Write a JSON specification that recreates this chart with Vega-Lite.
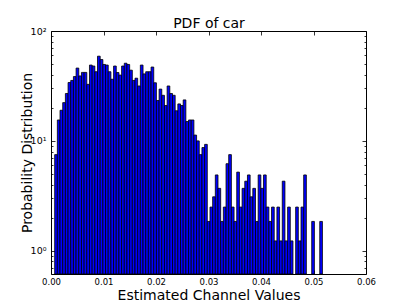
{
  "$schema": "https://vega.github.io/schema/vega-lite/v6.json",
  "width": 315,
  "height": 243,
  "autosize": {"type": "none"},
  "padding": {"left": 51, "top": 31, "right": 41, "bottom": 31},
  "background": "white",
  "data": {"values": [
    {"bin_start": 0.00070, "bin_end": 0.00121, "density": 7.5},
    {"bin_start": 0.00121, "bin_end": 0.00172, "density": 15.5},
    {"bin_start": 0.00172, "bin_end": 0.00223, "density": 19},
    {"bin_start": 0.00223, "bin_end": 0.00274, "density": 22.3},
    {"bin_start": 0.00274, "bin_end": 0.00325, "density": 27},
    {"bin_start": 0.00325, "bin_end": 0.00376, "density": 34},
    {"bin_start": 0.00376, "bin_end": 0.00427, "density": 35.5},
    {"bin_start": 0.00427, "bin_end": 0.00478, "density": 38.5},
    {"bin_start": 0.00478, "bin_end": 0.00529, "density": 46},
    {"bin_start": 0.00529, "bin_end": 0.00580, "density": 39},
    {"bin_start": 0.00580, "bin_end": 0.00631, "density": 42},
    {"bin_start": 0.00631, "bin_end": 0.00682, "density": 42},
    {"bin_start": 0.00682, "bin_end": 0.00733, "density": 32.7},
    {"bin_start": 0.00733, "bin_end": 0.00784, "density": 49},
    {"bin_start": 0.00784, "bin_end": 0.00835, "density": 48},
    {"bin_start": 0.00835, "bin_end": 0.00886, "density": 42.6},
    {"bin_start": 0.00886, "bin_end": 0.00937, "density": 59},
    {"bin_start": 0.00937, "bin_end": 0.00988, "density": 55},
    {"bin_start": 0.00988, "bin_end": 0.01039, "density": 49.6},
    {"bin_start": 0.01039, "bin_end": 0.01090, "density": 49},
    {"bin_start": 0.01090, "bin_end": 0.01141, "density": 42.6},
    {"bin_start": 0.01141, "bin_end": 0.01192, "density": 36.4},
    {"bin_start": 0.01192, "bin_end": 0.01243, "density": 48},
    {"bin_start": 0.01243, "bin_end": 0.01294, "density": 41.9},
    {"bin_start": 0.01294, "bin_end": 0.01345, "density": 39.7},
    {"bin_start": 0.01345, "bin_end": 0.01396, "density": 48},
    {"bin_start": 0.01396, "bin_end": 0.01447, "density": 50.9},
    {"bin_start": 0.01447, "bin_end": 0.01498, "density": 49.6},
    {"bin_start": 0.01498, "bin_end": 0.01549, "density": 44},
    {"bin_start": 0.01549, "bin_end": 0.01600, "density": 35.5},
    {"bin_start": 0.01600, "bin_end": 0.01651, "density": 37.2},
    {"bin_start": 0.01651, "bin_end": 0.01702, "density": 31.6},
    {"bin_start": 0.01702, "bin_end": 0.01753, "density": 49},
    {"bin_start": 0.01753, "bin_end": 0.01804, "density": 40.7},
    {"bin_start": 0.01804, "bin_end": 0.01855, "density": 42.6},
    {"bin_start": 0.01855, "bin_end": 0.01906, "density": 42.6},
    {"bin_start": 0.01906, "bin_end": 0.01957, "density": 47},
    {"bin_start": 0.01957, "bin_end": 0.02008, "density": 33.8},
    {"bin_start": 0.02008, "bin_end": 0.02059, "density": 23.3},
    {"bin_start": 0.02059, "bin_end": 0.02110, "density": 29.6},
    {"bin_start": 0.02110, "bin_end": 0.02161, "density": 26},
    {"bin_start": 0.02161, "bin_end": 0.02212, "density": 21},
    {"bin_start": 0.02212, "bin_end": 0.02263, "density": 31.6},
    {"bin_start": 0.02263, "bin_end": 0.02314, "density": 27},
    {"bin_start": 0.02314, "bin_end": 0.02365, "density": 26},
    {"bin_start": 0.02365, "bin_end": 0.02416, "density": 18.8},
    {"bin_start": 0.02416, "bin_end": 0.02467, "density": 21.7},
    {"bin_start": 0.02467, "bin_end": 0.02518, "density": 21},
    {"bin_start": 0.02518, "bin_end": 0.02569, "density": 23.6},
    {"bin_start": 0.02569, "bin_end": 0.02620, "density": 15},
    {"bin_start": 0.02620, "bin_end": 0.02671, "density": 15.5},
    {"bin_start": 0.02671, "bin_end": 0.02722, "density": 15.5},
    {"bin_start": 0.02722, "bin_end": 0.02773, "density": 11.3},
    {"bin_start": 0.02773, "bin_end": 0.02824, "density": 10},
    {"bin_start": 0.02824, "bin_end": 0.02875, "density": 7.5},
    {"bin_start": 0.02875, "bin_end": 0.02926, "density": 8.7},
    {"bin_start": 0.02926, "bin_end": 0.02977, "density": 9.3},
    {"bin_start": 0.02977, "bin_end": 0.03028, "density": 1.85},
    {"bin_start": 0.03028, "bin_end": 0.03079, "density": 2.5},
    {"bin_start": 0.03079, "bin_end": 0.03130, "density": 3.1},
    {"bin_start": 0.03130, "bin_end": 0.03181, "density": 4.9},
    {"bin_start": 0.03181, "bin_end": 0.03232, "density": 3.7},
    {"bin_start": 0.03232, "bin_end": 0.03283, "density": 1.85},
    {"bin_start": 0.03283, "bin_end": 0.03334, "density": 2.5},
    {"bin_start": 0.03334, "bin_end": 0.03385, "density": 6.2},
    {"bin_start": 0.03385, "bin_end": 0.03436, "density": 7.5},
    {"bin_start": 0.03436, "bin_end": 0.03487, "density": 2.5},
    {"bin_start": 0.03487, "bin_end": 0.03538, "density": 1.85},
    {"bin_start": 0.03538, "bin_end": 0.03589, "density": 5.2},
    {"bin_start": 0.03589, "bin_end": 0.03640, "density": 2.5},
    {"bin_start": 0.03640, "bin_end": 0.03691, "density": 3.7},
    {"bin_start": 0.03691, "bin_end": 0.03742, "density": 4.3},
    {"bin_start": 0.03742, "bin_end": 0.03793, "density": 4.9},
    {"bin_start": 0.03793, "bin_end": 0.03844, "density": 3.1},
    {"bin_start": 0.03844, "bin_end": 0.03895, "density": 3.7},
    {"bin_start": 0.03895, "bin_end": 0.03946, "density": 1.85},
    {"bin_start": 0.03946, "bin_end": 0.03997, "density": 4.9},
    {"bin_start": 0.03997, "bin_end": 0.04048, "density": 3.7},
    {"bin_start": 0.04048, "bin_end": 0.04099, "density": 4.9},
    {"bin_start": 0.04099, "bin_end": 0.04150, "density": 2.5},
    {"bin_start": 0.04150, "bin_end": 0.04201, "density": 1.85},
    {"bin_start": 0.04201, "bin_end": 0.04252, "density": 2.5},
    {"bin_start": 0.04252, "bin_end": 0.04303, "density": 1.23},
    {"bin_start": 0.04303, "bin_end": 0.04354, "density": 2.5},
    {"bin_start": 0.04354, "bin_end": 0.04405, "density": 1.23},
    {"bin_start": 0.04405, "bin_end": 0.04456, "density": 4.3},
    {"bin_start": 0.04456, "bin_end": 0.04507, "density": 1.23},
    {"bin_start": 0.04507, "bin_end": 0.04558, "density": 2.5},
    {"bin_start": 0.04558, "bin_end": 0.04609, "density": 1.23},
    {"bin_start": 0.04660, "bin_end": 0.04711, "density": 2.5},
    {"bin_start": 0.04711, "bin_end": 0.04762, "density": 1.23},
    {"bin_start": 0.04762, "bin_end": 0.04813, "density": 2.5},
    {"bin_start": 0.04813, "bin_end": 0.04864, "density": 4.9},
    {"bin_start": 0.04966, "bin_end": 0.05017, "density": 1.85},
    {"bin_start": 0.05119, "bin_end": 0.05170, "density": 1.85}
  ]},
  "layer": [
    {
      "mark": {"type": "bar", "fill": "#0000ff", "stroke": "black", "strokeWidth": 0.8, "clip": true},
      "encoding": {
        "x": {"field": "bin_start", "type": "quantitative",
          "scale": {"domain": [0, 0.06], "nice": false, "zero": false},
          "axis": {"orient": "bottom", "values": [0, 0.01, 0.02, 0.03, 0.04, 0.05, 0.06], "format": ".2f",
            "title": "Estimated Channel Values", "titleFontSize": 14, "titleBaseline": "alphabetic", "titleX": 157.5, "titleY": 25,
            "tickSize": -4, "labelPadding": 7, "labelFontSize": 8.5}},
        "x2": {"field": "bin_end"},
        "y": {"field": "density", "type": "quantitative",
          "scale": {"type": "log", "domain": [0.615, 100], "nice": false},
          "axis": {"orient": "left", "values": [0.7, 0.8, 0.9, 1, 2, 3, 4, 5, 6, 7, 8, 9, 10, 20, 30, 40, 50, 60, 70, 80, 90, 100],
            "labelExpr": "datum.value == 1 ? '10⁰' : datum.value == 10 ? '10¹' : datum.value == 100 ? '10²' : ''",
            "title": "Probability Distribution", "titleFontSize": 14, "titleBaseline": "alphabetic", "titleAngle": 270, "titleX": -20, "titleY": 121.5,
            "tickSize": {"condition": {"test": "datum.value == 1 || datum.value == 10 || datum.value == 100", "value": -4}, "value": -2},
            "labelPadding": 9, "labelFontSize": 9.5}},
        "y2": {"datum": 0.615}
      }
    },
    {
      "mark": {"type": "bar", "opacity": 0},
      "encoding": {
        "x": {"field": "bin_start", "type": "quantitative",
          "axis": {"orient": "top", "values": [0, 0.01, 0.02, 0.03, 0.04, 0.05, 0.06], "labels": false, "tickSize": -4,
            "title": "PDF of car", "titleFontSize": 14, "titleBaseline": "alphabetic", "titleX": 157.5, "titleY": -4}},
        "x2": {"field": "bin_end"},
        "y": {"field": "density", "type": "quantitative",
          "axis": {"orient": "right", "values": [0.7, 0.8, 0.9, 1, 2, 3, 4, 5, 6, 7, 8, 9, 10, 20, 30, 40, 50, 60, 70, 80, 90, 100], "labels": false, "title": null,
            "tickSize": {"condition": {"test": "datum.value == 1 || datum.value == 10 || datum.value == 100", "value": -4}, "value": -2}}},
        "y2": {"datum": 0.615}
      }
    }
  ],
  "resolve": {"axis": {"x": "independent", "y": "independent"}},
  "config": {
    "view": {"stroke": "black", "strokeWidth": 1},
    "axis": {"domain": false, "grid": false, "tickColor": "black", "tickWidth": 0.8, "labelColor": "black", "titleColor": "black",
      "labelFont": "DejaVu Sans", "titleFont": "DejaVu Sans", "titleFontWeight": "normal", "labelFlush": false, "labelOverlap": false, "labelBound": false}
  }
}
